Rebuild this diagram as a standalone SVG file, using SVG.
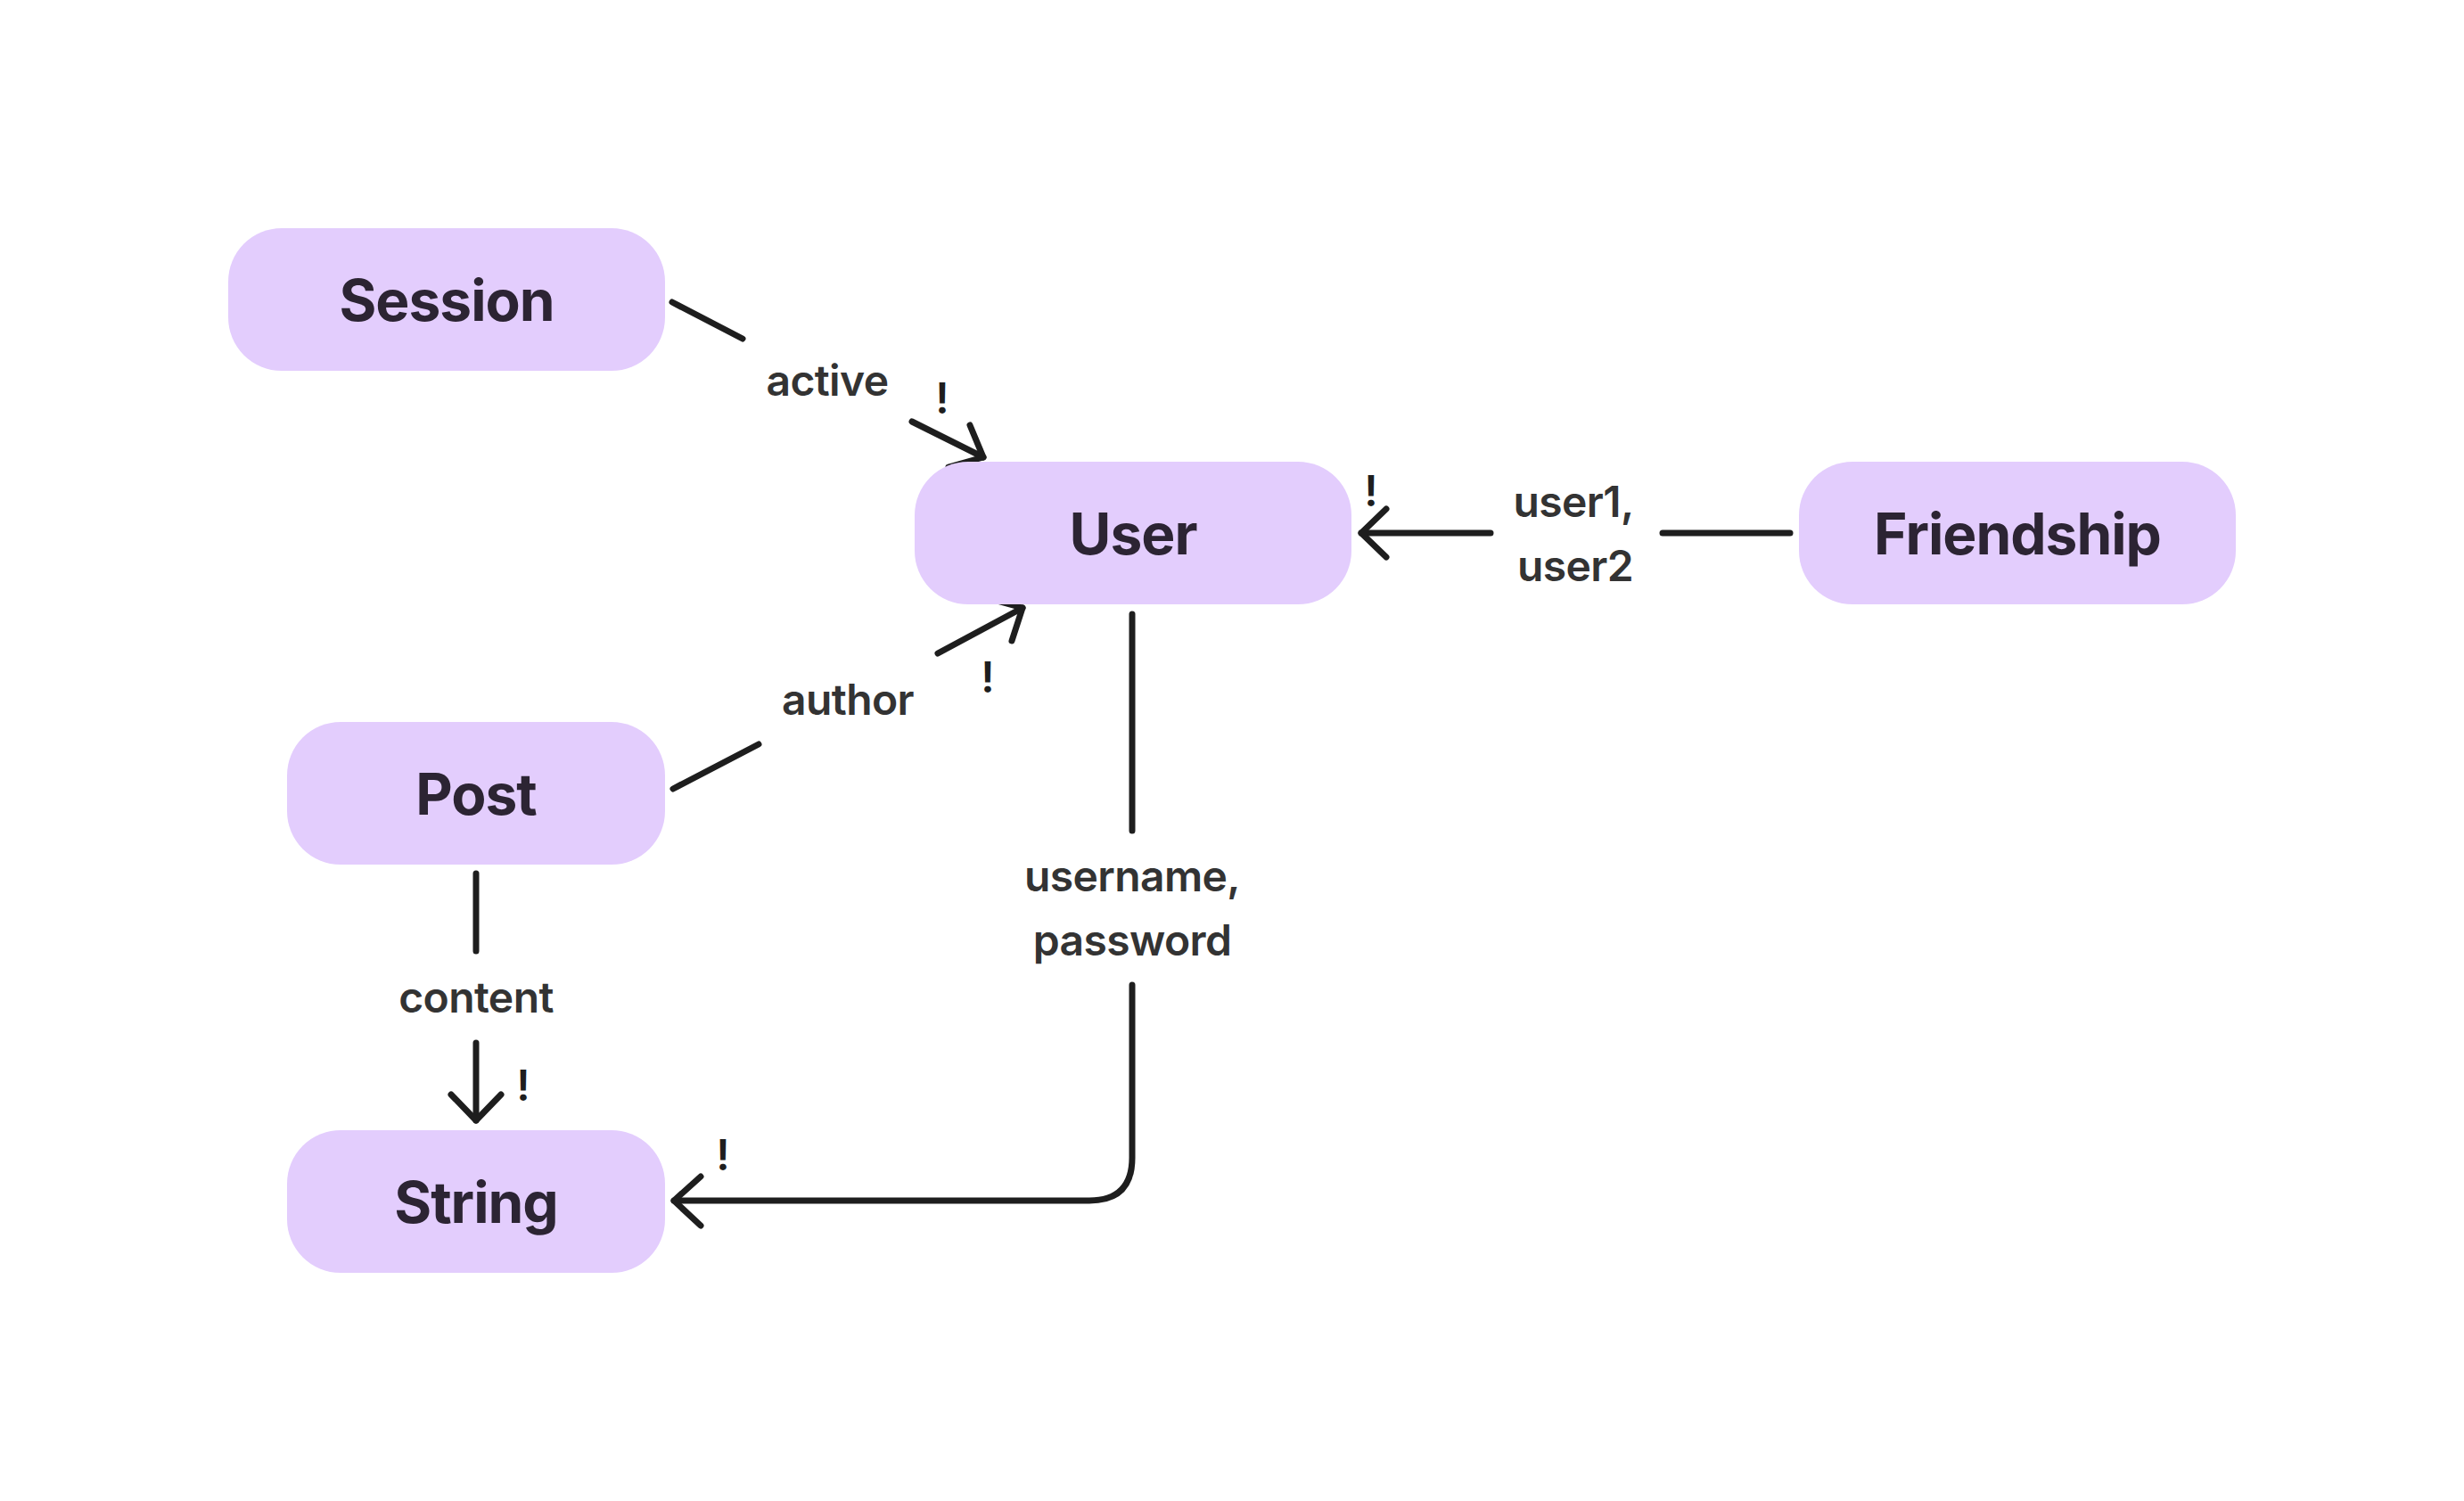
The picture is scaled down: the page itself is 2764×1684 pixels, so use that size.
<svg xmlns="http://www.w3.org/2000/svg" width="2764" height="1684" viewBox="0 0 2764 1684">
<style>
.node rect{fill:#e3cdfd;}
.node text{font-family:Inter,"Liberation Sans",sans-serif;font-weight:700;font-size:64px;letter-spacing:-1px;fill:#2c2433;text-anchor:middle;}
.edge{fill:none;stroke:#1e1e1e;stroke-width:7;stroke-linecap:round;stroke-linejoin:round;}
.lbl{font-family:Inter,"Liberation Sans",sans-serif;font-weight:600;font-size:48px;letter-spacing:-0.6px;fill:#333333;text-anchor:middle;}
.req{font-family:Inter,"Liberation Sans",sans-serif;font-weight:600;font-size:48px;fill:#1e1e1e;text-anchor:middle;}
</style>
<rect width="2764" height="1684" fill="#ffffff"/>
<g id="connectors">
  <g id="edge-session-user">
    <path class="edge" d="M754,339 L833,380"/>
    <path class="edge" d="M1023,473 L1103,513"/>
    <path class="edge" d="M1088,477 L1103,513 L1064,524"/>
    <text class="lbl" x="928" y="444">active</text>
    <text class="req" x="1057" y="464">!</text>
  </g>
  <g id="edge-post-user">
    <path class="edge" d="M755,885 L851,835"/>
    <path class="edge" d="M1052,733 L1147,682"/>
    <path class="edge" d="M1111,672 L1147,682 L1135,719"/>
    <text class="lbl" x="951" y="802">author</text>
    <text class="req" x="1108" y="777">!</text>
  </g>
  <g id="edge-friendship-user">
    <path class="edge" d="M2008,598 L1865,598"/>
    <path class="edge" d="M1672,598 L1527,598"/>
    <path class="edge" d="M1555,571 L1527,598 L1555,625"/>
    <text class="lbl" x="1765" y="580">user1,</text>
    <text class="lbl" x="1767" y="652">user2</text>
    <text class="req" x="1538" y="568">!</text>
  </g>
  <g id="edge-user-string">
    <path class="edge" d="M1270,689 L1270,932"/>
    <path class="edge" d="M1270,1105 L1270,1299 Q1270,1347 1222,1347 L756,1347"/>
    <path class="edge" d="M786,1320 L756,1347 L786,1375"/>
    <text class="lbl" x="1270" y="1000">username,</text>
    <text class="lbl" x="1270" y="1072">password</text>
    <text class="req" x="811" y="1313">!</text>
  </g>
  <g id="edge-post-string">
    <path class="edge" d="M534,980 L534,1067"/>
    <path class="edge" d="M534,1170 L534,1257"/>
    <path class="edge" d="M506,1228 L534,1257 L562,1228"/>
    <text class="lbl" x="534" y="1136">content</text>
    <text class="req" x="587" y="1235">!</text>
  </g>
</g>
<g id="node-session" class="node">
  <rect x="256" y="256" width="490" height="160" rx="60" ry="60"/>
  <text x="501" y="360">Session</text>
</g>
<g id="node-user" class="node">
  <rect x="1026" y="518" width="490" height="160" rx="60" ry="60"/>
  <text x="1271" y="622">User</text>
</g>
<g id="node-friendship" class="node">
  <rect x="2018" y="518" width="490" height="160" rx="60" ry="60"/>
  <text x="2263" y="622">Friendship</text>
</g>
<g id="node-post" class="node">
  <rect x="322" y="810" width="424" height="160" rx="60" ry="60"/>
  <text x="534" y="914">Post</text>
</g>
<g id="node-string" class="node">
  <rect x="322" y="1268" width="424" height="160" rx="60" ry="60"/>
  <text x="534" y="1372">String</text>
</g>
</svg>
